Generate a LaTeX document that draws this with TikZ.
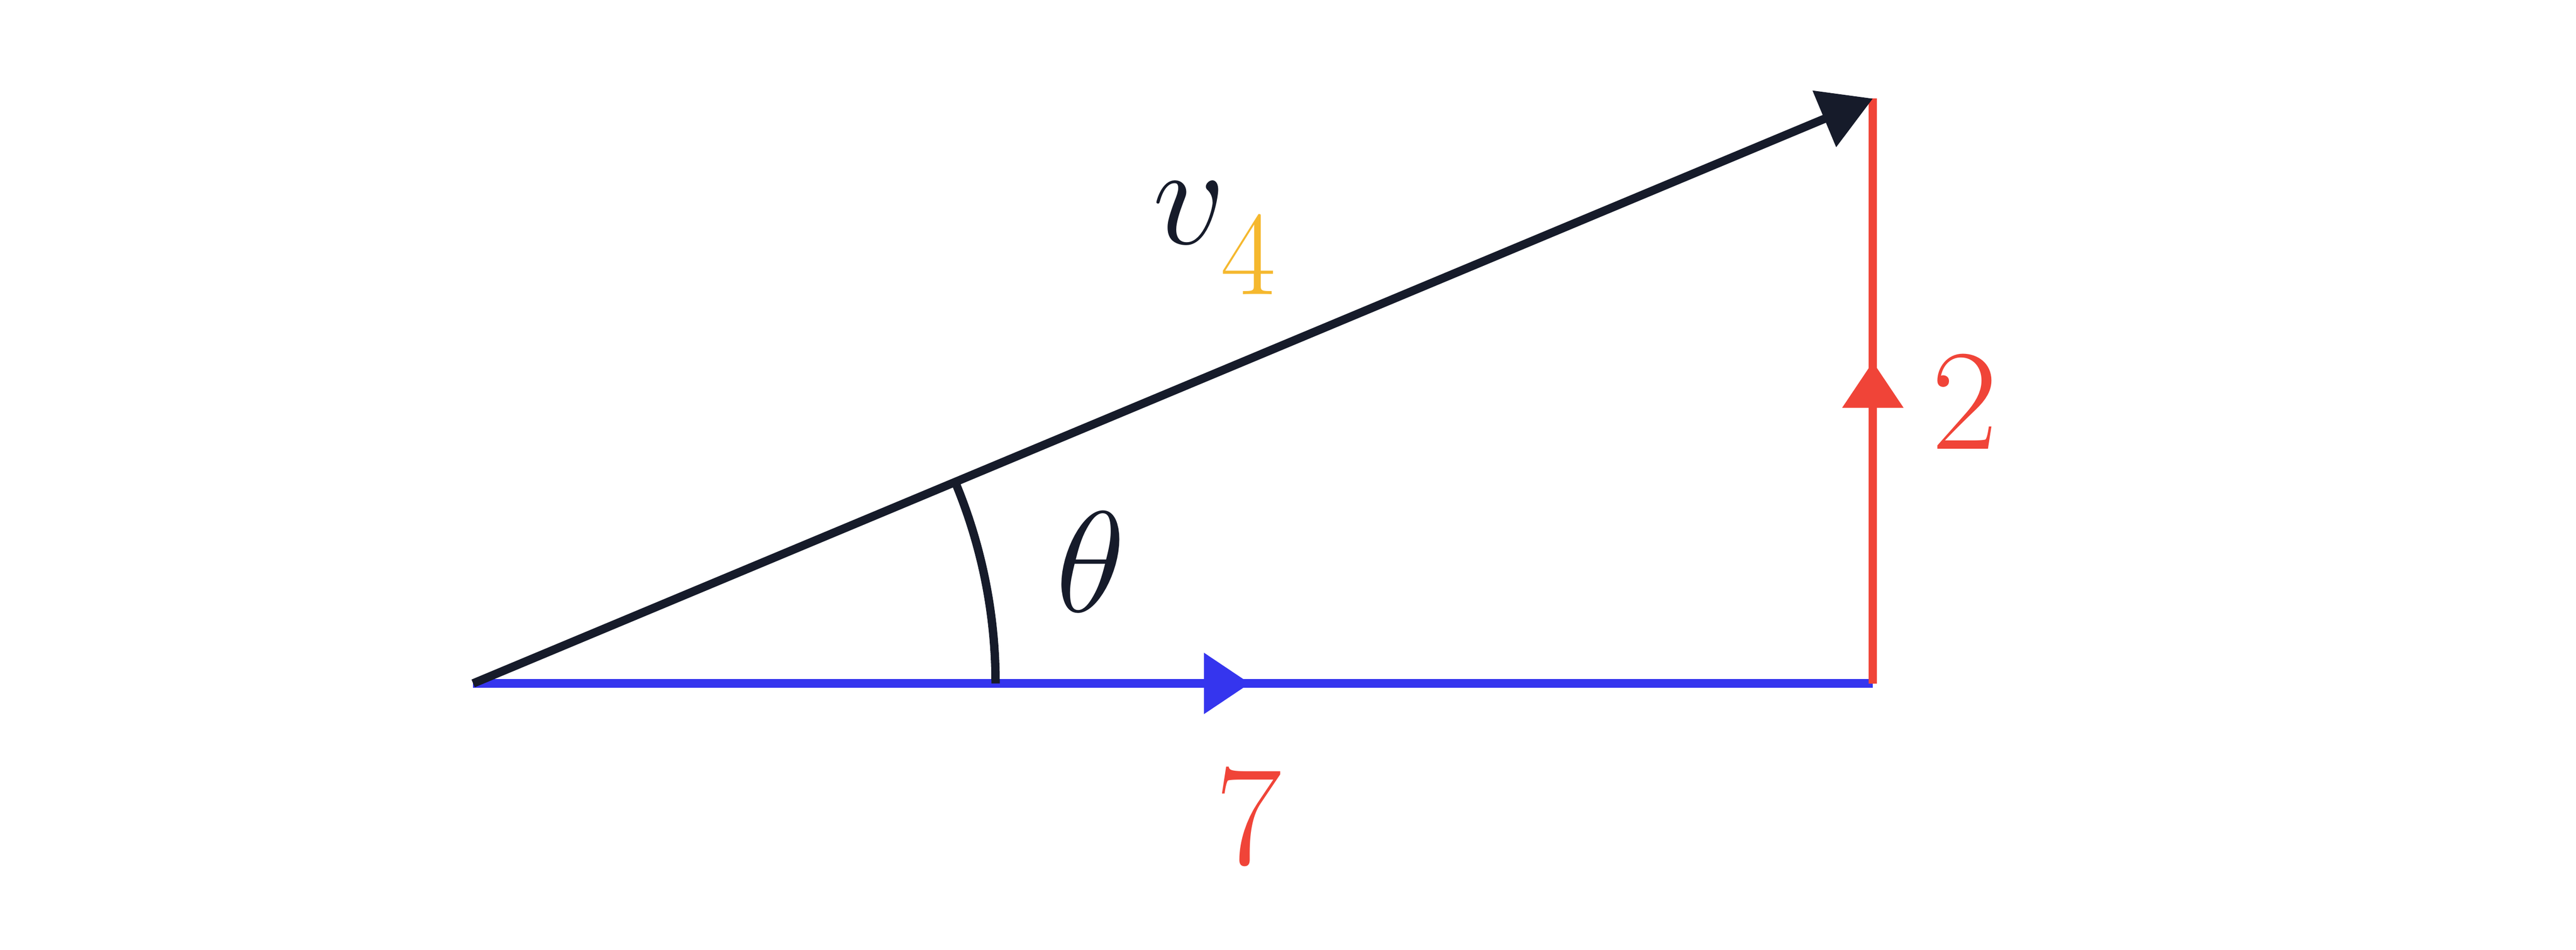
\documentclass[tikz,border=0pt]{standalone}
\usetikzlibrary{arrows.meta,decorations.markings}
\definecolor{ink}{HTML}{161B2A}
\definecolor{bl}{HTML}{3535EE}
\definecolor{rd}{HTML}{F04438}
\definecolor{yl}{HTML}{F5B82E}
\tikzset{
  ln/.style={line width=1.45pt},
  midtip/.style={postaction={decorate},decoration={markings,
     mark=at position #1 with {\arrow{Triangle[length=0.28cm,width=0.36cm]}}}},
  lbl/.style={font=\fontsize{28}{34}\selectfont}
}
\begin{document}
\begin{tikzpicture}[x=0.01cm,y=-0.01cm]
\useasboundingbox (0,0) rectangle (1568,578);
\coordinate (O) at (288,416);
\coordinate (R) at (1140,416);
\coordinate (T) at (1140,60);
\draw[ln,bl,midtip=0.555,fill=bl] (O) -- (R);
\draw[ln,rd,midtip=0.55,fill=rd] (R) -- (T);
\draw[ln,ink,-{Triangle[length=0.32cm,width=0.36cm]}] (O) -- (T);
\draw[ln,ink] (606,416) arc[start angle=0,end angle=-22.7,radius=318];
\node[lbl,ink] (v) at (740,145) {$v_{\lower5pt\hbox{$\scriptstyle\textcolor{yl}{4}$}}$};
\node[lbl,ink] (th) at (664,342) {$\theta$};
\node[lbl,rd] (s) at (760,498) {$7$};
\node[lbl,rd] (t) at (1196,245) {$2$};
\end{tikzpicture}
\end{document}
